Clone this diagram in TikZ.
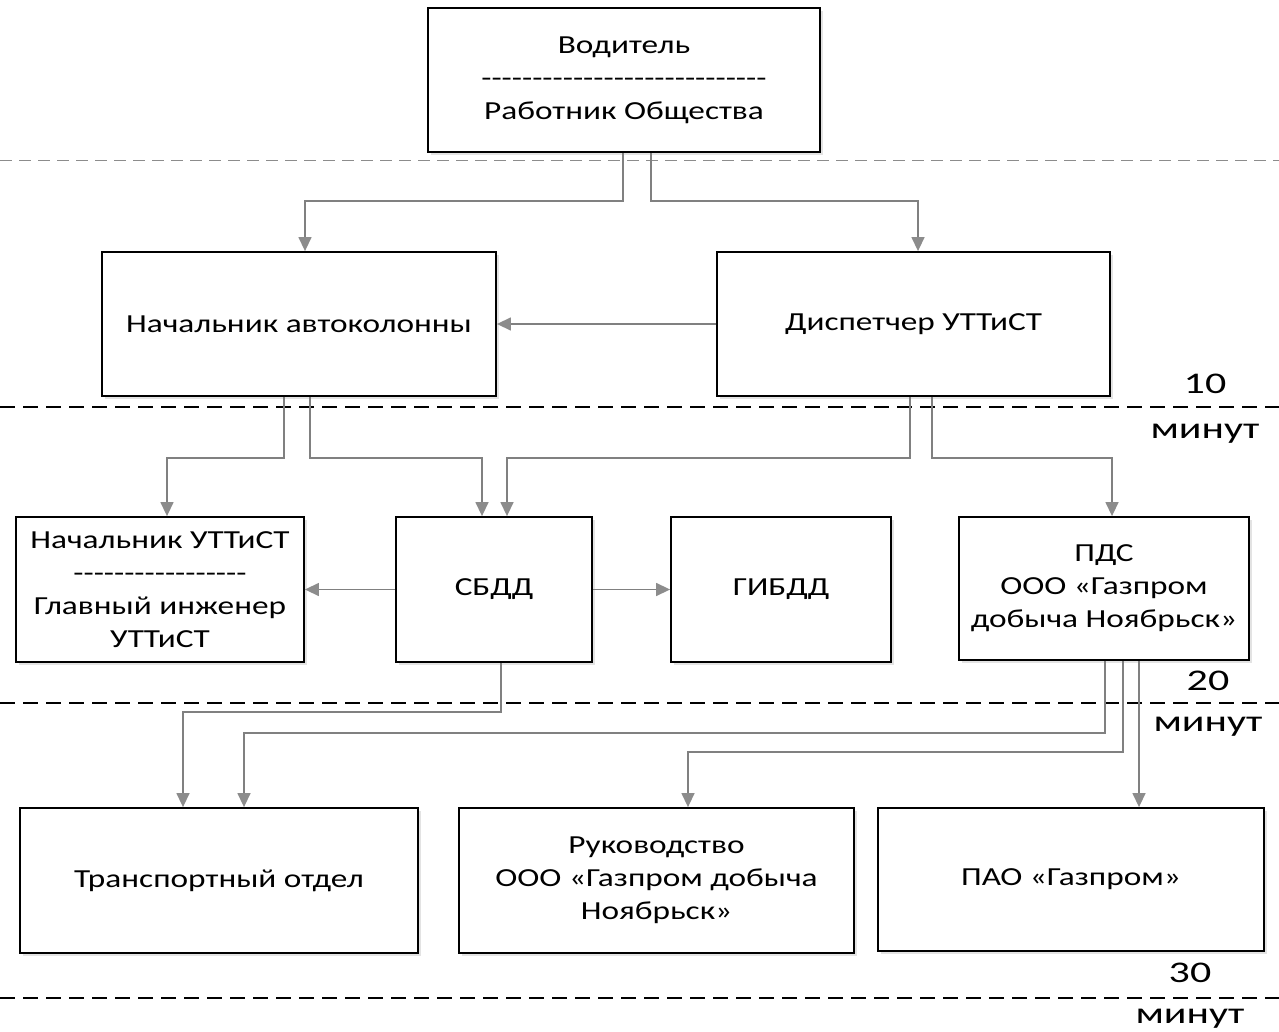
\documentclass[tikz,border=0pt]{standalone}
\usepackage{fontspec}
\setmainfont{Carlito}[FakeStretch=1.28,Ligatures=NoCommon]
\newfontfamily\minfont{Carlito}[FakeStretch=1.4]
\usetikzlibrary{arrows.meta,shadows}
\begin{document}
\begin{tikzpicture}[x=1pt,y=-1pt,
  box/.style={draw=black,line width=1.8pt,fill=white,drop shadow={shadow xshift=3pt,shadow yshift=-3pt,fill=black!22},font=\fontsize{26}{33}\selectfont,align=center},
  conn/.style={draw=black!50,line width=1.4pt,-{Triangle[width=13pt,length=14pt,color=black!45,fill=black!45]}},
  sep/.style={line width=1.2pt,dash pattern=on 15pt off 8pt},
  mins/.style={font=\minfont\fontsize{30}{32}\selectfont}]
\useasboundingbox (0,0) rectangle (1279,1032);
% separators
\draw[sep,black!45,line width=0.9pt,dash pattern=on 12pt off 7pt] (0,160) -- (1279,160);
\draw[sep] (0,407) -- (1279,407);
\draw[sep] (0,703) -- (1279,703);
\draw[sep] (0,998) -- (1279,998);
\node[mins] (t10) at (1205,384) {10};
\node[mins] (m10) at (1205,434) {минут};
\node[mins] (t20) at (1208,681) {20};
\node[mins] (m20) at (1208,727) {минут};
\node[mins] (t30) at (1190,973) {30};
\node[mins] (m30) at (1190,1019) {минут};
% boxes
\node[box,minimum width=392pt,minimum height=144pt] (vod) at (624,80) {Водитель\\-{}-{}-{}-{}-{}-{}-{}-{}-{}-{}-{}-{}-{}-{}-{}-{}-{}-{}-{}-{}-{}-{}-{}-{}-{}-{}-{}-\\Работник Общества};
\node[box,minimum width=394pt,minimum height=144pt] (nach) at (299,324) {Начальник автоколонны};
\node[box,minimum width=393pt,minimum height=144pt] (disp) at (913.5,324) {Диспетчер УТТиСТ};
\node[box,minimum width=288pt,minimum height=145pt,inner sep=0pt] (nutt) at (160,589.5) {Начальник УТТиСТ\\-{}-{}-{}-{}-{}-{}-{}-{}-{}-{}-{}-{}-{}-{}-{}-{}-\\Главный инженер\\УТТиСТ};
\node[box,minimum width=196pt,minimum height=145pt] (sbdd) at (494,589.5) {СБДД};
\node[box,minimum width=220pt,minimum height=145pt] (gibdd) at (781,589.5) {ГИБДД};
\node[box,minimum width=290pt,minimum height=143pt,inner sep=0pt] (pds) at (1104,588.5) {ПДС\\ООО «Газпром\\добыча Ноябрьск»};
\node[box,minimum width=398pt,minimum height=145pt] (tr) at (219,880.5) {Транспортный отдел};
\node[box,minimum width=395pt,minimum height=145pt] (ruk) at (656.5,880.5) {Руководство\\ООО «Газпром добыча\\Ноябрьск»};
\node[box,minimum width=386pt,minimum height=143pt] (pao) at (1071,879.5) {ПАО «Газпром»};
% connectors
\draw[conn] (vod.south -| 623,0) |- (305,201) -- (nach.north -| 305,0);
\draw[conn] (vod.south -| 651,0) |- (918,201) -- (disp.north -| 918,0);
\draw[conn] (disp.west) -- (nach.east);
\draw[conn] (nach.south -| 284,0) |- (167,458) -- (nutt.north -| 167,0);
\draw[conn] (nach.south -| 310,0) |- (482,458) -- (sbdd.north -| 482,0);
\draw[conn] (disp.south -| 910,0) |- (507,458) -- (sbdd.north -| 507,0);
\draw[conn] (disp.south -| 932,0) |- (1112,458) -- (pds.north -| 1112,0);
\draw[conn] (sbdd.west) -- (nutt.east);
\draw[conn] (sbdd.east) -- (gibdd.west);
\draw[conn] (sbdd.south -| 501,0) |- (183,712) -- (tr.north -| 183,0);
\draw[conn] (pds.south -| 1105,0) |- (244,733) -- (tr.north -| 244,0);
\draw[conn] (pds.south -| 1123,0) |- (688,752) -- (ruk.north -| 688,0);
\draw[conn] (pds.south -| 1139,0) -- (pao.north -| 1139,0);
\end{tikzpicture}
\end{document}
